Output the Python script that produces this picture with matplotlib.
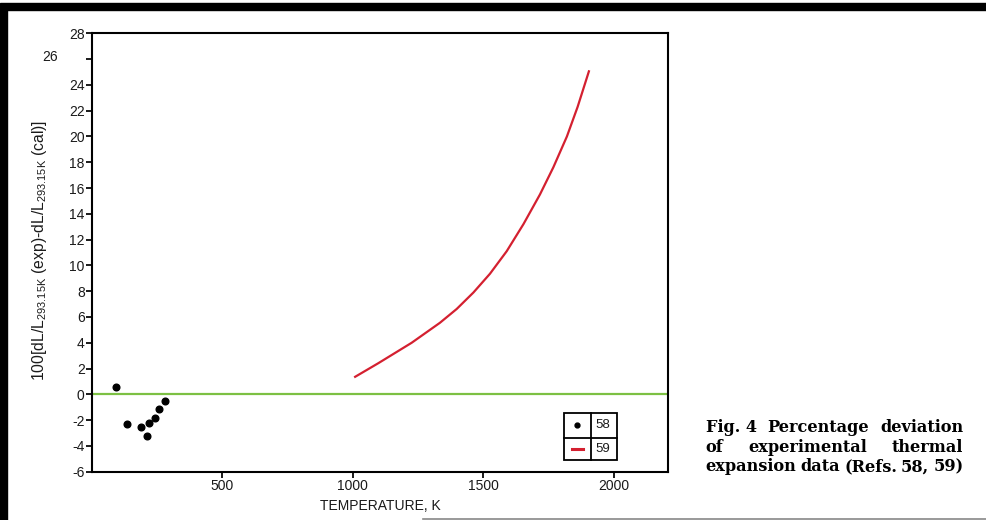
import matplotlib
matplotlib.use('Agg')
import matplotlib.pyplot as plt
from matplotlib.patches import Rectangle
from matplotlib.lines import Line2D

plt.rcParams['font.family'] = ['Liberation Sans', 'DejaVu Sans']
plt.rcParams['mathtext.default'] = 'regular'

# ref 58 - measured points
t58 = [96, 137, 191, 214, 224, 244, 261, 285]
dev58 = [0.6, -2.3, -2.5, -3.2, -2.2, -1.8, -1.1, -0.55]

# ref 59 - curve
t59 = [1010, 1099, 1226, 1334, 1398, 1462, 1525, 1589, 1653, 1716, 1767, 1819, 1860, 1903]
dev59 = [1.36, 2.42, 4.0, 5.55, 6.62, 7.9, 9.35, 11.1, 13.2, 15.5, 17.6, 20.0, 22.3, 25.05]

xticks = [500, 1000, 1500, 2000]
yticks = list(range(-6, 30, 2))
legend_labels = ['58', '59']
caption = [['Fig. 4', 'Percentage', 'deviation'],
           ['of', 'experimental', 'thermal'],
           ['expansion', 'data', '(Refs.', '58,', '59)']]

W, H = 987, 520
fig = plt.figure(figsize=(W / 100, H / 100), dpi=100)

def fx(px):
    return px / W

def fy(py):
    return 1 - py / H

ax_l, ax_r, ax_t, ax_b = 92.3, 667.7, 33.3, 471.7
ax = fig.add_axes([fx(ax_l), fy(ax_b), fx(ax_r) - fx(ax_l), fy(ax_t) - fy(ax_b)])

ax.axhline(0.05, color='#7cc043', lw=1.6, zorder=1)
ax.plot(t58, dev58, 'o', color='black', ms=4.8, zorder=3)
ax.plot(t59, dev59, '-', color='#d42030', lw=1.6, zorder=2)

ax.set_xlim(6, 2204)
ax.set_ylim(-6, 28)
ax.set_xticks(xticks)
ax.set_yticks(yticks)
ylabs = [str(v) for v in yticks]
ylabs[yticks.index(26)] = ''
ax.set_yticklabels(ylabs)
ax.text(fx(50), fy(57.3), '26', transform=fig.transFigure, ha='center', va='center',
        fontsize=10, color='#1a1a1a')

for s in ax.spines.values():
    s.set_linewidth(1.5)
ax.tick_params(direction='out', length=4, width=1.4, labelsize=10, colors='#1a1a1a', pad=1.5)

ax.set_xlabel('TEMPERATURE, K', fontsize=10, color='#1a1a1a', labelpad=4)
ax.set_ylabel(r'100[dL/L$_{293.15K}$ (exp)-dL/L$_{293.15K}$ (cal)]', fontsize=11.3,
              color='#1a1a1a')
# right edge of the rotated label sits near x=49 px
ax.yaxis.set_label_coords((49 - ax_l) / (ax_r - ax_l), (ax_b - 250) / (ax_b - ax_t))

# boxed legend
x0, xm, x1 = 0.820, 0.866, 0.912
yb, ymid, yt = 0.027, 0.078, 0.133
ax.add_patch(Rectangle((x0, yb), x1 - x0, yt - yb, transform=ax.transAxes, fill=False,
                       lw=1.3, ec='black', zorder=4))
ax.add_line(Line2D([xm, xm], [yb, yt], transform=ax.transAxes, color='black', lw=1.3, zorder=4))
ax.add_line(Line2D([x0, x1], [ymid, ymid], transform=ax.transAxes, color='black', lw=1.3, zorder=4))
ax.plot([(x0 + xm) / 2], [(ymid + yt) / 2], 'o', color='black', ms=3.5, transform=ax.transAxes, zorder=5)
ax.add_line(Line2D([(x0 + xm) / 2 - 0.01, (x0 + xm) / 2 + 0.01], [(yb + ymid) / 2] * 2,
                   transform=ax.transAxes, color='#d42030', lw=2.2, zorder=5))
ax.text(xm + 0.008, (ymid + yt) / 2, legend_labels[0], transform=ax.transAxes, va='center',
        fontsize=9.5, color='#1a1a1a')
ax.text(xm + 0.008, (yb + ymid) / 2, legend_labels[1], transform=ax.transAxes, va='center',
        fontsize=9.5, color='#1a1a1a')

# caption, justified by hand between two edges
cap = dict(fontsize=11.6, fontweight='bold', family=['DejaVu Serif'], va='center', ha='left',
           color='black')
left_px, right_px = 705.7, 963.3
fig.canvas.draw()
renderer = fig.canvas.get_renderer()
for row, words in enumerate(caption):
    ypos = fy(428 + 19.3 * row)
    txts = [fig.text(0, ypos, w, **cap) for w in words]
    widths = [t.get_window_extent(renderer).width for t in txts]
    gap = (right_px - left_px - sum(widths)) / (len(words) - 1)
    xpos = left_px
    for t, wd in zip(txts, widths):
        t.set_x(fx(xpos))
        xpos += wd + gap

# scan border
fig.patches.append(Rectangle((0, fy(10)), 1, fy(3.5) - fy(10), transform=fig.transFigure,
                             color='black', zorder=10))
fig.patches.append(Rectangle((0, 0), fx(7), fy(3.5), transform=fig.transFigure,
                             color='black', zorder=10))
fig.add_artist(Line2D([fx(423), 1], [fy(518.5)] * 2, transform=fig.transFigure,
                      color='#888888', lw=1.2))

fig.savefig('out.png', dpi=100)
